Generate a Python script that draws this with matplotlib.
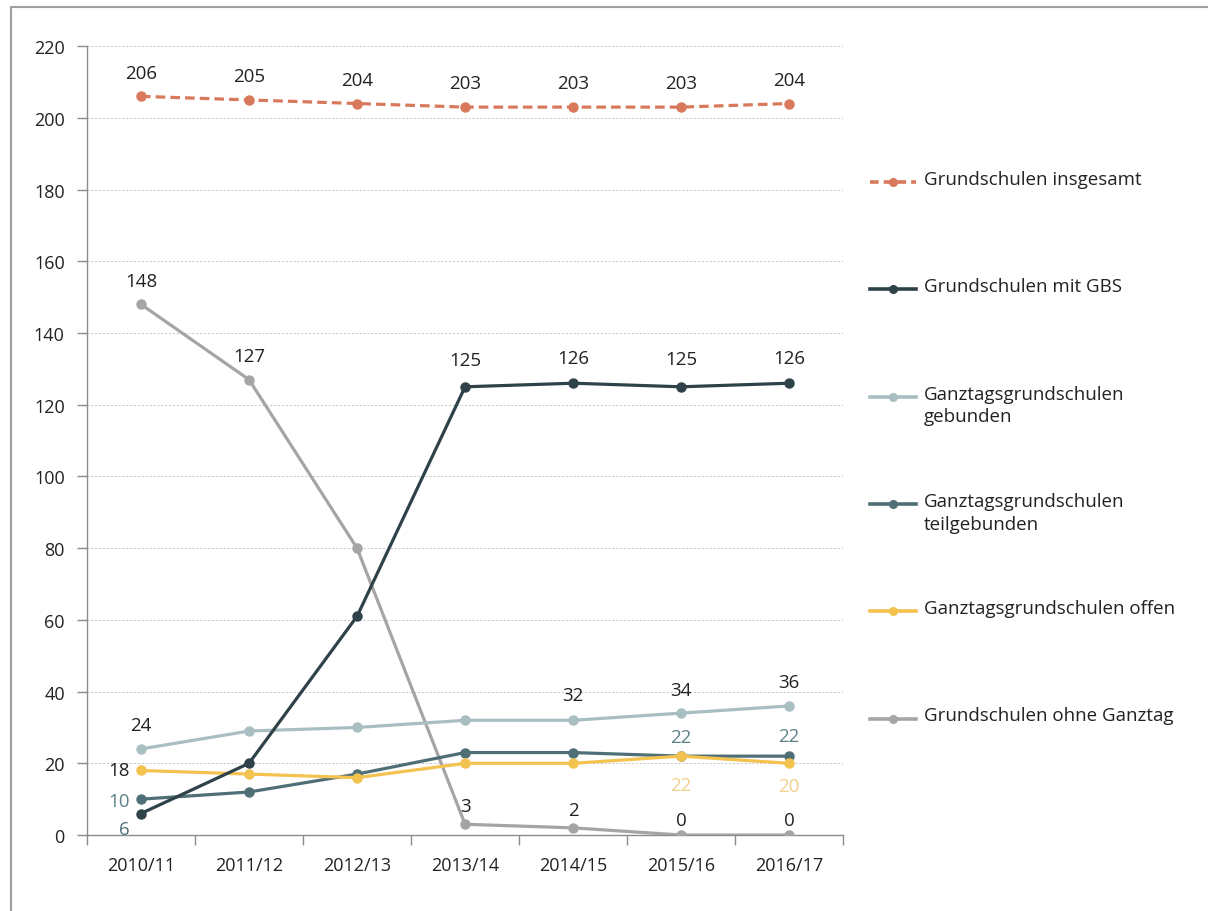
import matplotlib
matplotlib.use('Agg')
import matplotlib.pyplot as plt
from matplotlib.lines import Line2D
from matplotlib.patches import Rectangle
import numpy as np

plt.rcParams['font.family'] = ['Open Sans', 'DejaVu Sans']

years = ['2010/11', '2011/12', '2012/13', '2013/14', '2014/15', '2015/16', '2016/17']
insgesamt = [206, 205, 204, 203, 203, 203, 204]
mit_gbs = [6, 20, 61, 125, 126, 125, 126]
gebunden = [24, 29, 30, 32, 32, 34, 36]
teilgebunden = [10, 12, 17, 23, 23, 22, 22]
offen = [18, 17, 16, 20, 20, 22, 20]
ohne_ganztag = [148, 127, 80, 3, 2, 0, 0]

names = ['Grundschulen insgesamt', 'Grundschulen mit GBS',
         'Ganztagsgrundschulen\ngebunden', 'Ganztagsgrundschulen\nteilgebunden',
         'Ganztagsgrundschulen offen', 'Grundschulen ohne Ganztag']
colors = ['#D8795B', '#2F4249', '#A9BEC1', '#4F6F77', '#F3C24F', '#A5A5A5']

# which points get a label: (series index, point index, offset in points, colour)
dark = '#222222'
labels = [
    (0, 0, (0, 17), dark), (0, 1, (0, 17), dark), (0, 2, (0, 17), dark),
    (0, 3, (0, 17), dark), (0, 4, (0, 17), dark), (0, 5, (0, 17), dark),
    (0, 6, (0, 17), dark),
    (1, 0, (-12, -11.5), '#4F6F77'), (1, 3, (0, 19.5), dark), (1, 4, (0, 18.5), dark),
    (1, 5, (0, 20), dark), (1, 6, (0, 18.5), dark),
    (2, 0, (0, 17.5), dark), (2, 4, (0, 18), dark), (2, 5, (0, 17), dark),
    (2, 6, (0, 17.5), dark),
    (3, 0, (-16, -1.5), '#5E8088'), (3, 5, (0, 13.5), '#5E8088'), (3, 6, (0, 14.5), '#5E8088'),
    (4, 0, (-15.5, 0), dark), (4, 5, (0, -21), '#F0D08A'), (4, 6, (0, -16), '#F0D08A'),
    (5, 0, (0, 17), dark), (5, 1, (0, 17), dark), (5, 3, (0, 13), dark),
    (5, 4, (0, 13), dark), (5, 5, (0, 10.5), dark), (5, 6, (0, 10.5), dark),
]

series = [insgesamt, mit_gbs, gebunden, teilgebunden, offen, ohne_ganztag]

fig = plt.figure(figsize=(12.08, 9.12), dpi=100)
ax = fig.add_axes([0.072, 0.0833, 0.626, 0.865])

x = np.arange(len(years))
# draw order: back to front
order = [5, 2, 3, 4, 1, 0]
for i in order:
    ls = (0, (3, 1.6)) if i == 0 else '-'
    ax.plot(x, series[i], color=colors[i], lw=2.3, ls=ls, marker='o', ms=6.5,
            zorder=3 + order.index(i))

for s, p, off, c in labels:
    ax.annotate(str(series[s][p]), (x[p], series[s][p]), xytext=off, textcoords='offset points',
                ha='center', va='center', fontsize=13.5, color=c, zorder=10)

ax.set_xlim(-0.5, len(years) - 0.5)
ax.set_ylim(0, 220)
ax.set_yticks(np.arange(0, 221, 20))
ax.set_xticks(x)
ax.set_xticklabels(years)
ax.set_xticks(np.arange(-0.5, len(years), 1), minor=True)
ax.tick_params(axis='x', which='major', length=0, pad=15, labelsize=13, labelcolor=dark)
ax.tick_params(axis='x', which='minor', length=7, color='#8C8C8C', width=1)
ax.tick_params(axis='y', length=7, color='#8C8C8C', width=1, labelsize=13, labelcolor=dark, pad=9)
ax.grid(axis='y', color='#C4C4C4', ls=(0, (2, 2)), lw=0.7)
ax.set_axisbelow(True)
for sp in ['top', 'right']:
    ax.spines[sp].set_visible(False)
for sp in ['left', 'bottom']:
    ax.spines[sp].set_color('#8C8C8C')
    ax.spines[sp].set_linewidth(1)

# legend drawn by hand on the right side
W, H = 1208, 912
for i, name in enumerate(names):
    yp = 183 + 107.3 * i
    yf = 1 - yp / H
    ls = (0, (2.4, 1.4)) if i == 0 else '-'
    fig.add_artist(Line2D([870 / W, 916 / W], [yf, yf], color=colors[i], lw=2.6, ls=ls))
    fig.add_artist(Line2D([893 / W], [yf], color=colors[i], marker='o', ms=5.5, lw=0))
    fig.text(924 / W, yf + 12 / H, name, ha='left', va='top', fontsize=13.5, color=dark,
             linespacing=1.35)

# outer frame
fig.add_artist(Rectangle((11 / W, -0.1), 1.2, 1 - 8 / H + 0.1, transform=fig.transFigure,
                         fill=False, ec='#A0A0A0', lw=1.5))

fig.savefig('out.png', dpi=100)
